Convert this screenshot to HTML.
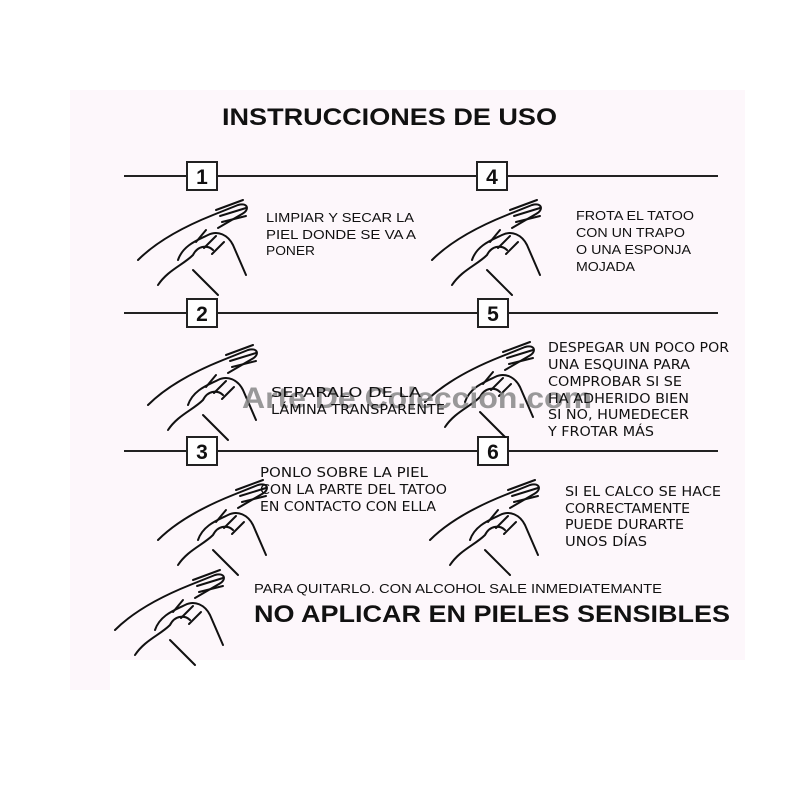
<!DOCTYPE html>
<html><head><meta charset="utf-8"><style>
html,body{margin:0;padding:0;background:#fff}
svg{display:block}
.c{font-family:"Liberation Sans",sans-serif;font-size:13px;fill:#111}
.d{font-family:"DejaVu Sans",sans-serif;font-size:13.5px;fill:#111}
.n{font-family:"Liberation Sans",sans-serif;font-weight:bold;font-size:24px;fill:#111}
</style></head><body>
<svg width="800" height="800" viewBox="0 0 800 800" xmlns="http://www.w3.org/2000/svg">
<rect width="800" height="800" fill="#fff"/>
<rect x="70" y="90" width="675" height="600" fill="#fdf7fb"/>
<rect x="110" y="660" width="640" height="40" fill="#fff"/>
<defs>
<g id="h" fill="none" stroke="#111" stroke-width="2" stroke-linecap="round" stroke-linejoin="round">
<path d="M0 60 C20 40 50 25 75 15 L100 5 C110 2 112 10 104 14 L80 28"/>
<path d="M78 10 L105 0 M82 16 L108 8 M84 22 L108 16"/>
<path d="M40 60 C45 45 60 40 70 35 C80 30 90 35 95 45 L108 75"/>
<path d="M20 85 C30 70 45 65 55 55 C60 45 70 45 75 50"/>
<path d="M58 42 L68 30 M66 48 L78 36 M74 54 L86 42"/>
<path d="M55 70 L80 95"/>
</g>
</defs>
<text x="222" y="125" class="n" font-size="21" textLength="335" lengthAdjust="spacingAndGlyphs">INSTRUCCIONES DE USO</text>
<g stroke="#222" stroke-width="2" fill="#fff">
<line x1="124" y1="176" x2="718" y2="176"/>
<line x1="124" y1="313" x2="718" y2="313"/>
<line x1="124" y1="451" x2="718" y2="451"/>
<rect x="187" y="162" width="30" height="28"/>
<rect x="477" y="162" width="30" height="28"/>
<rect x="187" y="299" width="30" height="28"/>
<rect x="478" y="299" width="30" height="28"/>
<rect x="187" y="437" width="30" height="28"/>
<rect x="478" y="437" width="30" height="28"/>
</g>
<g font-family="Liberation Sans,sans-serif" font-weight="bold" font-size="21" fill="#111" text-anchor="middle">
<text x="202" y="184">1</text><text x="492" y="184">4</text>
<text x="202" y="321">2</text><text x="493" y="321">5</text>
<text x="202" y="459">3</text><text x="493" y="459">6</text>
</g>
<use href="#h" transform="translate(138,200)"/>
<use href="#h" transform="translate(432,200)"/>
<use href="#h" transform="translate(148,345)"/>
<use href="#h" transform="translate(425,342)"/>
<use href="#h" transform="translate(158,480)"/>
<use href="#h" transform="translate(430,480)"/>
<use href="#h" transform="translate(115,570)"/>
<text x="266" y="222" class="c" textLength="148" lengthAdjust="spacingAndGlyphs">LIMPIAR Y SECAR LA</text>
<text x="266" y="239" class="c" textLength="150" lengthAdjust="spacingAndGlyphs">PIEL DONDE SE VA A</text>
<text x="266" y="255" class="c" textLength="49" lengthAdjust="spacingAndGlyphs">PONER</text>
<text x="576" y="220" class="c" textLength="118" lengthAdjust="spacingAndGlyphs">FROTA EL TATOO</text>
<text x="576" y="237" class="c" textLength="109" lengthAdjust="spacingAndGlyphs">CON UN TRAPO</text>
<text x="576" y="254" class="c" textLength="115" lengthAdjust="spacingAndGlyphs">O UNA ESPONJA</text>
<text x="576" y="271" class="c" textLength="59" lengthAdjust="spacingAndGlyphs">MOJADA</text>
<text x="242" y="408" font-family="Liberation Sans,sans-serif" font-weight="bold" font-size="30" fill="#888" opacity="0.85" textLength="350" lengthAdjust="spacingAndGlyphs">Arte De Coleccion.com</text>
<text x="271" y="397" class="d" textLength="150" lengthAdjust="spacingAndGlyphs">SEPARALO DE LA</text>
<text x="271" y="414" class="d" textLength="174" lengthAdjust="spacingAndGlyphs">LÁMINA TRANSPARENTE</text>
<text x="548" y="352" class="d" textLength="181" lengthAdjust="spacingAndGlyphs">DESPEGAR UN POCO POR</text>
<text x="548" y="369" class="d" textLength="142" lengthAdjust="spacingAndGlyphs">UNA ESQUINA PARA</text>
<text x="548" y="386" class="d" textLength="134" lengthAdjust="spacingAndGlyphs">COMPROBAR SI SE</text>
<text x="548" y="403" class="d" textLength="141" lengthAdjust="spacingAndGlyphs">HA ADHERIDO BIEN</text>
<text x="548" y="419" class="d" textLength="141" lengthAdjust="spacingAndGlyphs">SI NO, HUMEDECER</text>
<text x="548" y="436" class="d" textLength="106" lengthAdjust="spacingAndGlyphs">Y FROTAR MÁS</text>
<text x="260" y="477" class="d" textLength="168" lengthAdjust="spacingAndGlyphs">PONLO SOBRE LA PIEL</text>
<text x="260" y="494" class="d" textLength="187" lengthAdjust="spacingAndGlyphs">CON LA PARTE DEL TATOO</text>
<text x="260" y="511" class="d" textLength="176" lengthAdjust="spacingAndGlyphs">EN CONTACTO CON ELLA</text>
<text x="565" y="496" class="d" textLength="156" lengthAdjust="spacingAndGlyphs">SI EL CALCO SE HACE</text>
<text x="565" y="513" class="d" textLength="125" lengthAdjust="spacingAndGlyphs">CORRECTAMENTE</text>
<text x="565" y="529" class="d" textLength="119" lengthAdjust="spacingAndGlyphs">PUEDE DURARTE</text>
<text x="565" y="546" class="d" textLength="82" lengthAdjust="spacingAndGlyphs">UNOS DÍAS</text>
<text x="254" y="593" class="c" textLength="408" lengthAdjust="spacingAndGlyphs">PARA QUITARLO.  CON ALCOHOL SALE INMEDIATEMANTE</text>
<text x="254" y="622" class="n" textLength="476" lengthAdjust="spacingAndGlyphs">NO APLICAR EN PIELES SENSIBLES</text>
</svg>
</body></html>
